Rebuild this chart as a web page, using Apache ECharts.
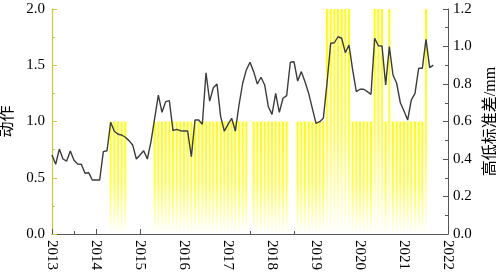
<!DOCTYPE html>
<html>
<head>
<meta charset="utf-8">
<script src="https://cdn.jsdelivr.net/npm/echarts@6/dist/echarts.min.js"></script>
<style>
  html, body { margin: 0; padding: 0; background: #fff; }
  #chart { width: 496px; height: 275px; }
</style>
</head>
<body>
<div id="chart"></div>
<script>
// monthly series, first value = 2013-01
var startYear = 2013
// 高低标准差/mm (right axis)
var stdDev = [
  0.421, 0.372, 0.453, 0.400, 0.389, 0.443, 0.393, 0.373, 0.372, 0.324, 0.327, 0.288,
  0.288, 0.288, 0.439, 0.444, 0.596, 0.548, 0.532, 0.528, 0.516, 0.498, 0.475, 0.400,
  0.421, 0.444, 0.400, 0.493, 0.617, 0.741, 0.649, 0.706, 0.711, 0.551, 0.558, 0.551,
  0.549, 0.549, 0.412, 0.608, 0.608, 0.585, 0.860, 0.709, 0.780, 0.800, 0.626, 0.549,
  0.585, 0.617, 0.549, 0.688, 0.804, 0.875, 0.916, 0.866, 0.800, 0.836, 0.795, 0.679,
  0.638, 0.750, 0.649, 0.724, 0.738, 0.916, 0.919, 0.816, 0.866, 0.812, 0.750, 0.670,
  0.590, 0.599, 0.617, 0.804, 1.017, 1.020, 1.052, 1.044, 0.967, 1.008, 0.875, 0.759,
  0.772, 0.772, 0.759, 0.745, 1.044, 1.004, 1.003, 0.795, 0.999, 0.848, 0.804, 0.700,
  0.656, 0.608, 0.715, 0.750, 0.884, 0.884, 1.038, 0.887, 0.901
]
// 动作 (left axis)
var action = [
  0, 0, 0, 0, 0, 0, 0, 0, 0, 0, 0, 0,
  0, 0, 0, 0, 1, 1, 1, 1, 1, 0, 0, 0,
  0, 0, 0, 0, 1, 1, 1, 1, 1, 1, 1, 1,
  1, 1, 1, 1, 1, 1, 1, 1, 1, 1, 1, 1,
  1, 1, 1, 1, 1, 1, 0, 1, 1, 1, 1, 1,
  1, 1, 1, 1, 1, 0, 0, 1, 1, 1, 1, 1,
  1, 1, 1, 2, 2, 2, 2, 2, 2, 2, 1, 1,
  1, 1, 1, 1, 2, 2, 2, 1, 2, 1, 1, 1,
  1, 1, 1, 1, 1, 1, 2, 0, 0
]

var fontNum = 'Liberation Serif'
var fontName = 'Liberation Serif, Noto Sans CJK SC'

function monthPos (i) {
  return startYear + i / 12
}

var myChart = echarts.init(document.getElementById('chart'), null, { renderer: 'canvas' })
myChart.setOption({
  animation: false,
  grid: { left: 52, right: 48, top: 9, bottom: 41, containLabel: false, outerBoundsMode: 'none' },
  xAxis: {
    type: 'value',
    min: 2013,
    max: 2022,
    interval: 1,
    axisLine: { lineStyle: { color: '#555', width: 1 } },
    axisTick: { inside: true, length: 5, lineStyle: { color: '#555' } },
    minorTick: { show: true, splitNumber: 2, length: 3, lineStyle: { color: '#555' } },
    splitLine: { show: false },
    axisLabel: {
      rotate: -90,
      margin: 6,
      color: '#000',
      fontFamily: fontNum,
      fontSize: 15,
      formatter: function (v) { return String(v) }
    }
  },
  yAxis: [
    {
      type: 'value',
      position: 'left',
      min: 0,
      max: 2,
      interval: 0.5,
      name: '动作',
      nameLocation: 'middle',
      nameRotate: 90,
      nameGap: 31,
      nameTextStyle: { color: '#000', fontFamily: fontName, fontSize: 16 },
      axisLine: { show: true, lineStyle: { color: '#c8c83c', width: 1.2 } },
      axisTick: { show: true, inside: true, length: 5, lineStyle: { color: '#c8c83c' } },
      minorTick: { show: true, splitNumber: 2, length: 3, lineStyle: { color: '#c8c83c' } },
      splitLine: { show: false },
      axisLabel: {
        margin: 7,
        color: '#000',
        fontFamily: fontNum,
        fontSize: 15,
        formatter: function (v) { return v.toFixed(1) }
      }
    },
    {
      type: 'value',
      position: 'right',
      min: 0,
      max: 1.2,
      interval: 0.2,
      name: '高低标准差/mm',
      nameLocation: 'middle',
      nameRotate: 90,
      nameGap: 29,
      nameTextStyle: { color: '#000', fontFamily: fontName, fontSize: 16 },
      axisLine: { show: true, lineStyle: { color: '#555', width: 1 } },
      axisTick: { show: true, inside: true, length: 5, lineStyle: { color: '#555' } },
      minorTick: { show: true, splitNumber: 2, length: 3, lineStyle: { color: '#555' } },
      splitLine: { show: false },
      axisLabel: {
        margin: 5,
        color: '#000',
        fontFamily: fontNum,
        fontSize: 15,
        formatter: function (v) { return v.toFixed(1) }
      }
    }
  ],
  series: [
    {
      name: '动作',
      type: 'bar',
      yAxisIndex: 0,
      barWidth: 2,
      itemStyle: {
        color: new echarts.graphic.LinearGradient(0, 0, 0, 1, [
          { offset: 0, color: '#ffff00' },
          { offset: 0.55, color: '#ffff3c' },
          { offset: 1, color: '#ffffff' }
        ])
      },
      data: action.map(function (v, i) { return [monthPos(i), v] })
    },
    {
      name: '高低标准差/mm',
      type: 'line',
      yAxisIndex: 1,
      showSymbol: false,
      symbol: 'none',
      lineStyle: { color: '#3c3c3c', width: 1.4 },
      z: 3,
      data: stdDev.map(function (v, i) { return [monthPos(i), v] })
    }
  ]
})
</script>
</body>
</html>
